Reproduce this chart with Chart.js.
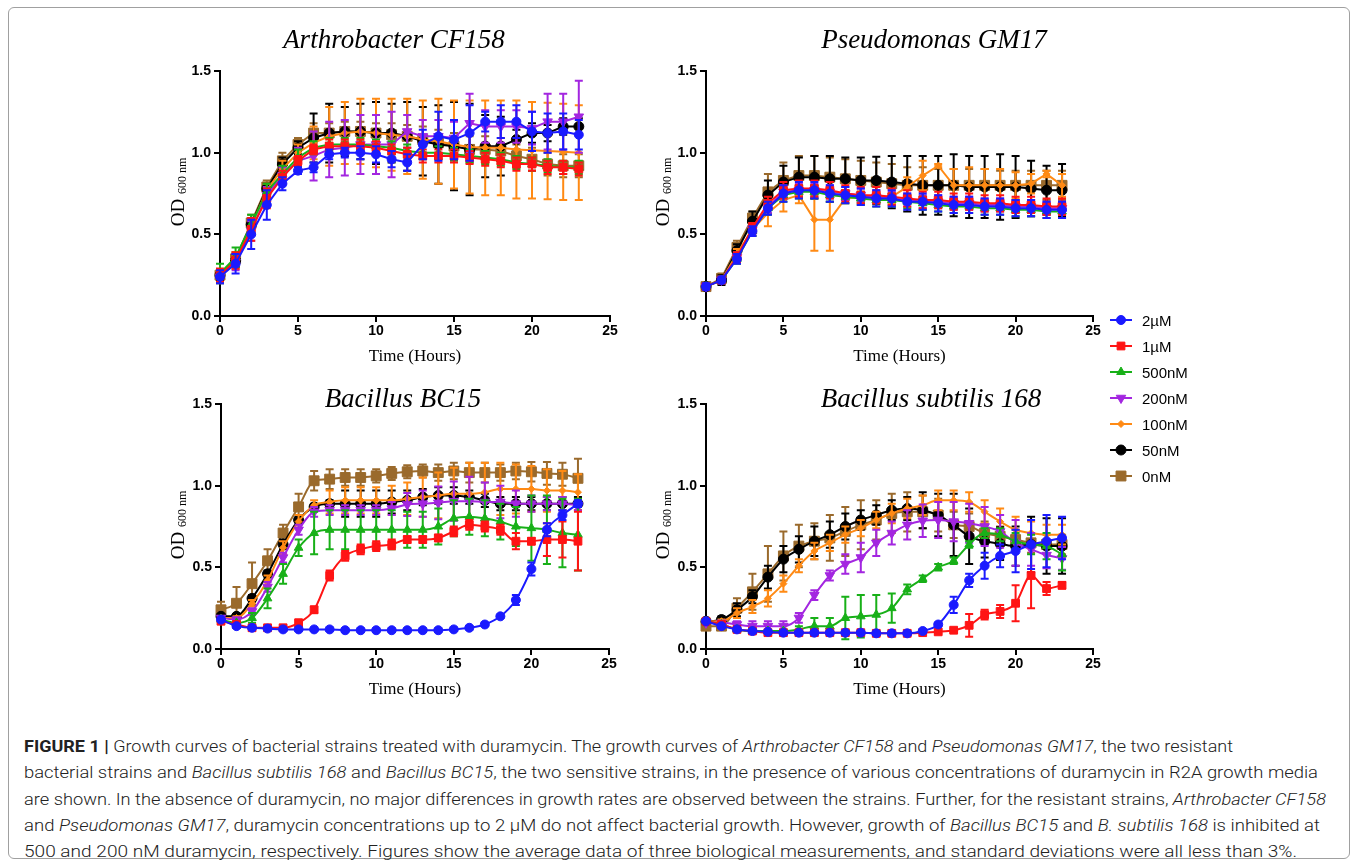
<!DOCTYPE html>
<html>
<head>
<meta charset="utf-8">
<script src="https://cdn.jsdelivr.net/npm/chart.js@4.4.1/dist/chart.umd.min.js"></script>
<style>
  body { margin: 0; width: 1358px; height: 866px; background: #fff; position: relative; overflow: hidden; font-family: "Liberation Sans", Arial, sans-serif; }
  .frame { position: absolute; left: 8px; top: 7px; width: 1340px; height: 850px; border: 1px solid #a0a0a0; border-radius: 6px; }
  canvas.panel { position: absolute; }
  .title { position: absolute; font: italic 27px "Liberation Serif", "Times New Roman", serif; white-space: nowrap; transform: translate(-50%, -50%); line-height: 1; }
  .ylab { position: absolute; font: 19px "Liberation Serif", serif; white-space: nowrap; transform: translate(-50%, -50%) rotate(-90deg); line-height: 1; }
  .ylab span { font-size: 12px; position: relative; top: 2px; }
  .leg { position: absolute; font: 15px "Liberation Sans", Arial, sans-serif; white-space: nowrap; line-height: 1; transform: translateY(-50%); }
  .legicon { position: absolute; }
  .cap { position: absolute; left: 24px; font: 300 17px Roboto, "Liberation Sans", sans-serif; color: #222; white-space: nowrap; line-height: 26.3px; }
  .cap span { display: inline-block; transform-origin: left center; }
  .cap b { font-weight: 700; }
</style>
</head>
<body>
<div class="frame"></div>

<canvas id="pA" class="panel" width="490" height="350" style="left:140px;top:20px"></canvas>
<canvas id="pB" class="panel" width="487" height="350" style="left:626px;top:20px"></canvas>
<canvas id="pC" class="panel" width="488" height="350" style="left:141px;top:353px"></canvas>
<canvas id="pD" class="panel" width="487" height="350" style="left:626px;top:353px"></canvas>

<div class="title" style="left:394px;top:39px">Arthrobacter CF158</div>
<div class="title" style="left:934px;top:39px">Pseudomonas GM17</div>
<div class="title" style="left:403px;top:398px">Bacillus BC15</div>
<div class="title" style="left:931px;top:398px">Bacillus subtilis 168</div>

<div class="ylab" style="left:177px;top:192px">OD <span>600 nm</span></div>
<div class="ylab" style="left:662px;top:192px">OD <span>600 nm</span></div>
<div class="ylab" style="left:177px;top:525px">OD <span>600 nm</span></div>
<div class="ylab" style="left:662px;top:525px">OD <span>600 nm</span></div>

<div id="legend"></div>

<div class="cap" style="top:733px">
  <span><b>FIGURE 1 |</b> Growth curves of bacterial strains treated with duramycin. The growth curves of <i>Arthrobacter CF158</i> and <i>Pseudomonas GM17</i>, the two resistant</span><br>
  <span>bacterial strains and <i>Bacillus subtilis 168</i> and <i>Bacillus BC15</i>, the two sensitive strains, in the presence of various concentrations of duramycin in R2A growth media</span><br>
  <span>are shown. In the absence of duramycin, no major differences in growth rates are observed between the strains. Further, for the resistant strains, <i>Arthrobacter CF158</i></span><br>
  <span>and <i>Pseudomonas GM17</i>, duramycin concentrations up to 2 μM do not affect bacterial growth. However, growth of <i>Bacillus BC15</i> and <i>B. subtilis 168</i> is inhibited at</span><br>
  <span>500 and 200 nM duramycin, respectively. Figures show the average data of three biological measurements, and standard deviations were all less than 3%.</span>
</div>

<script>
const hours = [0,1,2,3,4,5,6,7,8,9,10,11,12,13,14,15,16,17,18,19,20,21,22,23];
const labels = ['2µM', '1µM', '500nM', '200nM', '100nM', '50nM', '0nM'];
const colors = ['#1a1aff', '#ff1414', '#18b018', '#a326e0', '#ff8a14', '#000000', '#9a6a2c'];
const pointStyles = ['circle', 'rect', 'triangle', 'triangle', 'rectRot', 'circle', 'rect'];
const pointRadii = [4.5, 5.5, 5, 5.5, 3.5, 5, 7];
const pointRotations = [0, 0, 0, 180, 0, 0, 0];

/* ===============================
   ARTHROBACTER CF158
================================ */
const aBlue   = [.24,.32,.50,.68,.81,.89,.91,.99,1.00,1.00,.99,.96,.94,1.05,1.10,1.08,1.12,1.19,1.19,1.19,1.13,1.12,1.13,1.11];
const aRed    = [.25,.34,.53,.72,.85,.95,1.02,1.04,1.04,1.04,1.03,1.01,.99,.98,.98,.98,.97,.96,.95,.93,.93,.91,.91,.90];
const aGreen  = [.26,.36,.56,.76,.87,.97,1.03,1.05,1.05,1.05,1.04,1.03,1.01,1.00,1.00,.99,.98,.97,.96,.94,.93,.92,.91,.91];
const aPurple = [.24,.33,.52,.74,.86,.95,.98,1.02,1.03,1.05,1.05,1.05,1.13,1.10,1.10,1.09,1.18,1.16,1.16,1.16,1.15,1.19,1.19,1.22];
const aOrange = [.25,.34,.55,.77,.90,1.00,1.06,1.10,1.12,1.13,1.12,1.11,1.10,1.08,1.07,1.05,1.035,1.03,1.03,1.02,1.015,1.01,1.005,1.00];
const aBlack  = [.25,.34,.56,.78,.93,1.03,1.09,1.12,1.13,1.13,1.12,1.12,1.10,1.07,1.05,1.04,1.02,1.04,1.04,1.08,1.12,1.12,1.16,1.16];
const aBrown  = [.25,.35,.57,.79,.95,1.05,1.12,1.12,1.13,1.13,1.12,1.11,1.10,1.08,1.06,1.04,1.02,1.02,1.01,.98,.96,.93,.92,.92];
const aBlueErr   = [.04,.06,.09,.09,.04,.02,.03,.03,.03,.04,.05,.05,.05,.09,.15,.12,.17,.06,.10,.10,.12,.12,.11,.09];
const aRedErr    = [.04,.05,.07,.06,.04,.03,.03,.04,.04,.04,.04,.04,.04,.04,.04,.04,.04,.04,.04,.04,.04,.04,.04,.04];
const aGreenErr  = [.06,.06,.06,.05,.05,.05,.04,.04,.04,.04,.04,.04,.04,.04,.04,.04,.04,.04,.04,.04,.04,.04,.04,.04];
const aPurpleErr = [.04,.05,.06,.05,.05,.08,.15,.17,.17,.18,.18,.20,.10,.10,.10,.10,.18,.10,.10,.10,.10,.17,.17,.22];
const aOrangeErr = [.04,.05,.05,.04,.05,.05,.10,.18,.19,.20,.21,.22,.23,.24,.26,.27,.285,.29,.29,.30,.295,.295,.295,.29];
const aBlackErr  = [.03,.04,.04,.03,.04,.04,.15,.18,.15,.17,.19,.18,.21,.21,.24,.27,.28,.19,.18,.06,.06,.05,.05,.05];
const aBrownErr  = [.04,.04,.05,.04,.05,.04,.06,.06,.06,.06,.06,.07,.07,.08,.08,.08,.08,.08,.08,.07,.07,.07,.07,.07];

/* ===============================
   PSEUDOMONAS GM17
================================ */
const bBlue   = [.18,.22,.35,.52,.66,.75,.77,.77,.75,.74,.73,.72,.72,.70,.70,.69,.68,.68,.67,.67,.66,.66,.65,.65];
const bRed    = [.18,.22,.36,.54,.69,.77,.78,.78,.77,.75,.74,.74,.73,.72,.71,.71,.70,.70,.69,.69,.68,.68,.67,.67];
const bGreen  = [.18,.22,.35,.52,.66,.74,.76,.76,.74,.73,.72,.71,.71,.70,.69,.68,.67,.67,.66,.66,.65,.65,.64,.64];
const bPurple = [.18,.22,.36,.53,.67,.76,.77,.77,.76,.75,.74,.73,.72,.71,.70,.70,.69,.69,.68,.68,.67,.67,.66,.66];
const bOrange = [.18,.22,.38,.53,.63,.71,.74,.59,.59,.72,.73,.73,.73,.79,.86,.92,.80,.80,.80,.80,.80,.81,.87,.80];
const bBlack  = [.18,.22,.40,.58,.74,.82,.85,.85,.84,.84,.83,.83,.82,.81,.80,.80,.80,.79,.79,.79,.79,.78,.77,.77];
const bBrown  = [.18,.23,.42,.60,.76,.83,.86,.86,.85,.84,.83,.82,.81,.80,.80,.80,.80,.80,.80,.80,.80,.80,.80,.80];
const bBlueErr   = [.02,.02,.03,.03,.04,.05,.05,.05,.05,.05,.05,.05,.05,.05,.05,.05,.05,.05,.05,.05,.05,.05,.05,.05];
const bRedErr    = [.02,.02,.03,.03,.04,.05,.05,.05,.05,.05,.05,.05,.05,.05,.05,.05,.05,.05,.05,.05,.05,.05,.05,.05];
const bGreenErr  = [.02,.02,.03,.03,.04,.04,.04,.04,.04,.04,.04,.04,.04,.04,.04,.04,.04,.04,.04,.04,.04,.04,.04,.04];
const bPurpleErr = [.02,.02,.03,.03,.04,.04,.04,.04,.04,.04,.04,.04,.04,.04,.04,.04,.04,.04,.04,.04,.04,.04,.04,.04];
const bOrangeErr = [.02,.02,.03,.04,.08,.07,.05,.19,.19,.03,.03,.04,.04,.06,.09,.01,.10,.11,.10,.10,.08,.06,.02,.07];
const bBlackErr  = [.02,.03,.04,.06,.09,.10,.12,.13,.14,.13,.14,.145,.16,.17,.18,.18,.19,.19,.19,.20,.19,.17,.15,.16];
const bBrownErr  = [.02,.03,.04,.04,.11,.11,.12,.12,.12,.12,.12,.12,.12,.11,.11,.10,.10,.10,.10,.09,.09,.09,.09,.09];

/* ===============================
   BACILLUS BC15
================================ */
const cBlue   = [.18,.14,.13,.125,.12,.12,.12,.12,.115,.115,.115,.115,.115,.115,.115,.12,.13,.15,.20,.30,.49,.73,.82,.89];
const cRed    = [.17,.15,.13,.13,.13,.16,.24,.45,.57,.61,.63,.64,.67,.67,.68,.72,.76,.75,.73,.66,.66,.67,.67,.66];
const cGreen  = [.18,.16,.19,.31,.46,.62,.71,.73,.73,.73,.73,.73,.73,.73,.75,.80,.81,.80,.78,.75,.74,.73,.71,.70];
const cPurple = [.19,.18,.23,.38,.56,.73,.84,.85,.85,.85,.85,.86,.885,.89,.895,.905,.905,.90,.90,.89,.89,.89,.89,.88];
const cOrange = [.19,.19,.28,.42,.62,.78,.88,.90,.91,.91,.91,.91,.92,.93,.94,.95,.95,.96,.98,.98,.98,.97,.97,.96];
const cBlack  = [.20,.20,.31,.46,.64,.79,.87,.89,.89,.89,.89,.90,.91,.93,.94,.94,.93,.91,.89,.89,.89,.89,.89,.89];
const cBrown  = [.24,.28,.40,.54,.71,.87,1.03,1.04,1.05,1.05,1.06,1.075,1.085,1.09,1.08,1.09,1.08,1.08,1.08,1.09,1.085,1.075,1.07,1.045];
const cBlueErr   = [.01,.01,.01,.01,.01,.01,.01,.01,.01,.01,.01,.01,.01,.01,.01,.01,.01,.01,.01,.03,.04,.04,.03,.02];
const cRedErr    = [.01,.01,.01,.01,.01,.02,.02,.03,.03,.03,.03,.03,.02,.02,.02,.03,.03,.03,.03,.05,.02,.10,.11,.18];
const cGreenErr  = [.01,.01,.03,.06,.06,.05,.13,.12,.12,.12,.12,.12,.11,.11,.11,.11,.11,.11,.11,.12,.20,.21,.21,.22];
const cPurpleErr = [.01,.01,.02,.03,.03,.03,.03,.03,.03,.03,.03,.04,.07,.08,.10,.12,.15,.12,.10,.08,.05,.04,.04,.03];
const cOrangeErr = [.01,.01,.02,.03,.04,.04,.03,.07,.08,.08,.08,.09,.10,.12,.14,.16,.19,.18,.16,.15,.14,.13,.12,.11];
const cBlackErr  = [.01,.01,.02,.02,.03,.02,.02,.02,.08,.08,.08,.07,.06,.05,.05,.05,.04,.04,.04,.04,.04,.04,.04,.04];
const cBrownErr  = [.05,.10,.13,.07,.05,.08,.06,.06,.05,.05,.04,.04,.04,.04,.05,.05,.06,.06,.05,.05,.06,.07,.07,.12];

/* ===============================
   BACILLUS SUBTILIS 168
================================ */
const dBlue   = [.17,.14,.12,.11,.105,.10,.10,.10,.10,.10,.10,.096,.096,.096,.11,.15,.27,.42,.51,.57,.60,.64,.66,.68];
const dRed    = [.17,.15,.12,.11,.10,.10,.10,.10,.10,.10,.10,.096,.096,.096,.10,.105,.115,.145,.21,.23,.28,.45,.37,.39];
const dGreen  = [.17,.15,.12,.11,.11,.11,.12,.14,.14,.19,.20,.21,.25,.365,.43,.50,.54,.64,.71,.70,.66,.64,.63,.58];
const dPurple = [.16,.16,.15,.14,.14,.14,.19,.33,.45,.52,.56,.65,.71,.76,.785,.79,.78,.77,.75,.72,.65,.61,.575,.555];
const dOrange = [.17,.17,.22,.26,.31,.40,.51,.60,.65,.70,.74,.79,.83,.86,.88,.91,.91,.90,.84,.78,.73,.71,.70,.70];
const dBlack  = [.17,.18,.24,.32,.44,.55,.61,.66,.70,.75,.79,.82,.85,.86,.85,.82,.76,.69,.66,.645,.63,.64,.63,.63];
const dBrown  = [.14,.14,.25,.35,.46,.57,.63,.66,.68,.72,.76,.79,.83,.84,.84,.82,.76,.75,.71,.69,.67,.65,.64,.64];
const dBlueErr   = [.01,.01,.01,.01,.01,.01,.01,.01,.01,.01,.01,.01,.01,.01,.01,.01,.05,.04,.08,.07,.13,.15,.16,.13];
const dRedErr    = [.01,.01,.01,.01,.01,.01,.01,.01,.01,.01,.01,.01,.01,.01,.01,.01,.01,.07,.03,.04,.11,.20,.04,.02];
const dGreenErr  = [.01,.01,.01,.01,.01,.01,.02,.05,.05,.13,.13,.12,.09,.03,.02,.02,.02,.02,.03,.04,.05,.06,.08,.10];
const dPurpleErr = [.01,.01,.02,.03,.03,.03,.03,.03,.03,.06,.09,.08,.07,.09,.10,.11,.12,.12,.12,.10,.14,.10,.08,.07];
const dOrangeErr = [.01,.01,.03,.04,.05,.05,.04,.05,.05,.05,.05,.05,.06,.06,.06,.06,.06,.06,.07,.08,.08,.07,.06,.06];
const dBlackErr  = [.01,.02,.04,.04,.07,.08,.08,.09,.08,.08,.06,.06,.06,.07,.11,.13,.19,.17,.10,.10,.12,.17,.17,.17];
const dBrownErr  = [.02,.02,.06,.11,.17,.15,.13,.11,.14,.15,.15,.12,.12,.12,.10,.10,.08,.08,.07,.06,.06,.06,.06,.06];

/* ===============================
   ERROR BARS (drawn behind each dataset)
================================ */
const errorBars = {
  id: 'errorBars',
  beforeDatasetDraw(chart, args) {
    const ds = chart.data.datasets[args.index];
    if (!ds.errors) return;
    const ctx = chart.ctx;
    const yScale = chart.scales.y;
    ctx.save();
    ctx.strokeStyle = ds.borderColor;
    ctx.lineWidth = 2;
    args.meta.data.forEach((pt, i) => {
      const e = ds.errors[i];
      if (!e) return;
      const v = ds.data[i].y;
      const top = yScale.getPixelForValue(v + e);
      const bot = yScale.getPixelForValue(v - e);
      ctx.beginPath();
      ctx.moveTo(pt.x, top); ctx.lineTo(pt.x, bot);
      ctx.moveTo(pt.x - 4, top); ctx.lineTo(pt.x + 4, top);
      ctx.moveTo(pt.x - 4, bot); ctx.lineTo(pt.x + 4, bot);
      ctx.stroke();
    });
    ctx.restore();
  }
};

const tickFont = { family: '"Liberation Sans", Arial, sans-serif', weight: 'bold', size: 14 };

function makePanel(canvasId, values, errors, smooth) {
  const datasets = labels.map((label, k) => ({
    label,
    data: hours.map((h, i) => ({ x: h, y: values[k][i] })),
    errors: errors[k],
    borderColor: colors[k],
    backgroundColor: colors[k],
    pointBackgroundColor: colors[k],
    pointBorderColor: colors[k],
    pointStyle: pointStyles[k],
    pointRadius: pointRadii[k],
    pointRotation: pointRotations[k],
    pointBorderWidth: 1,
    borderWidth: 2,
    tension: smooth ? 0.4 : 0,
    cubicInterpolationMode: smooth ? 'monotone' : 'default',
    clip: false
  }));

  new Chart(document.getElementById(canvasId), {
    type: 'line',
    data: { datasets },
    plugins: [errorBars],
    options: {
      responsive: false,
      animation: false,
      layout: { padding: { top: 51, right: 20, left: 0, bottom: 0 } },
      plugins: { legend: { display: false }, tooltip: { enabled: false } },
      scales: {
        x: {
          type: 'linear', min: 0, max: 25,
          ticks: { stepSize: 5, color: '#000', font: tickFont, padding: 1, maxRotation: 0 },
          grid: { display: true, drawOnChartArea: false, drawTicks: true, tickLength: 6, color: '#000', lineWidth: 2 },
          border: { display: true, color: '#000', width: 2 },
          title: { display: true, text: 'Time (Hours)', color: '#000',
                   font: { family: '"Liberation Serif", serif', size: 17 }, padding: { top: 4, bottom: 3 } },
          afterFit(s) { s.height = 54; }
        },
        y: {
          min: 0, max: 1.5,
          ticks: { stepSize: 0.5, color: '#000', font: tickFont, padding: 3, callback: v => v.toFixed(1) },
          grid: { display: true, drawOnChartArea: false, drawTicks: true, tickLength: 6, color: '#000', lineWidth: 2 },
          border: { display: true, color: '#000', width: 2 },
          afterFit(s) { s.width = 80; }
        }
      }
    }
  });
}

makePanel('pA', [aBlue, aRed, aGreen, aPurple, aOrange, aBlack, aBrown],
  [aBlueErr, aRedErr, aGreenErr, aPurpleErr, aOrangeErr, aBlackErr, aBrownErr], false);
makePanel('pB', [bBlue, bRed, bGreen, bPurple, bOrange, bBlack, bBrown],
  [bBlueErr, bRedErr, bGreenErr, bPurpleErr, bOrangeErr, bBlackErr, bBrownErr], false);
makePanel('pC', [cBlue, cRed, cGreen, cPurple, cOrange, cBlack, cBrown],
  [cBlueErr, cRedErr, cGreenErr, cPurpleErr, cOrangeErr, cBlackErr, cBrownErr], true);
makePanel('pD', [dBlue, dRed, dGreen, dPurple, dOrange, dBlack, dBrown],
  [dBlueErr, dRedErr, dGreenErr, dPurpleErr, dOrangeErr, dBlackErr, dBrownErr], true);

/* ===============================
   LEGEND
================================ */
const legend = document.getElementById('legend');
labels.forEach((label, k) => {
  const rowY = 320 + k * 26;
  const c = document.createElement('canvas');
  c.width = 30; c.height = 18;
  c.className = 'legicon';
  c.style.left = '1106px';
  c.style.top = (rowY - 9) + 'px';
  legend.appendChild(c);
  const ctx = c.getContext('2d');
  ctx.strokeStyle = colors[k];
  ctx.fillStyle = colors[k];
  ctx.lineWidth = 2;
  ctx.beginPath(); ctx.moveTo(4, 9); ctx.lineTo(26, 9); ctx.stroke();
  ctx.lineWidth = 1;
  Chart.helpers.drawPoint(ctx, {
    pointStyle: pointStyles[k], rotation: pointRotations[k], radius: pointRadii[k], borderWidth: 1
  }, 15, 9);

  const t = document.createElement('div');
  t.className = 'leg';
  t.textContent = label;
  t.style.left = '1142px';
  t.style.top = rowY + 'px';
  legend.appendChild(t);
});

/* ===============================
   CAPTION – fit each line to its width
================================ */
const capLineEnds = [1233, 1318, 1326, 1320, 1297];
document.fonts.ready.then(() => {
  document.querySelectorAll('.cap span').forEach((s, i) => {
    const w = s.getBoundingClientRect().width;
    s.style.transform = 'scaleX(' + ((capLineEnds[i] - 24) / w) + ')';
  });
});
</script>
</body>
</html>
